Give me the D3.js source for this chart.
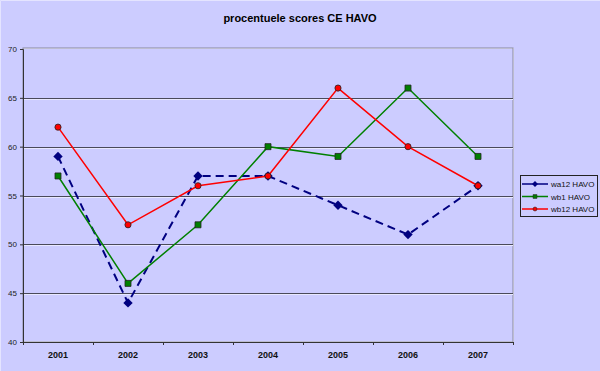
<!DOCTYPE html>
<html>
<head>
<meta charset="utf-8">
<script src="https://cdn.jsdelivr.net/npm/d3@7"></script>
<style>
  body { margin: 0; background: #ccccff; }
  svg { display: block; font-family: Arial, "Liberation Sans", sans-serif; }
</style>
</head>
<body>
<svg id="chart" width="600" height="371"></svg>
<script>
const years = ['2001', '2002', '2003', '2004', '2005', '2006', '2007'];
const wa12 = [59, 44, 57, 57, 54, 51, 56];
const wb1 = [57, 46, 52, 60, 59, 66, 59];
const wb12 = [62, 52, 56, 57, 66, 60, 56];
const yTicks = [40, 45, 50, 55, 60, 65, 70];

const series = [
  { name: 'wa12 HAVO', values: wa12, color: '#000080', dash: '8,5', width: 2, shape: d3.symbolSquare, rot: 45, size: 44 },
  { name: 'wb1 HAVO', values: wb1, color: '#008000', dash: null, width: 1.5, shape: d3.symbolSquare, rot: 0, size: 36 },
  { name: 'wb12 HAVO', values: wb12, color: '#ff0000', dash: null, width: 1.5, shape: d3.symbolCircle, rot: 0, size: 30 }
];

const svg = d3.select('svg#chart');
const W = 600, H = 371;
const plot = { left: 23, right: 513, top: 49, bottom: 342 };

// outer frame with light edge
svg.append('rect').attr('width', W).attr('height', H).attr('fill', '#ccccff');
svg.append('path').attr('d', `M0.5,${H} L0.5,0.5 L${W},0.5`)
  .attr('fill', 'none').attr('stroke', '#e4e4ff');

const x = d3.scaleBand().domain(years).range([plot.left, plot.right]);
const y = d3.scaleLinear().domain([40, 70]).range([plot.bottom, plot.top]);

svg.append('text')
  .attr('x', 300).attr('y', 22)
  .attr('text-anchor', 'middle')
  .attr('font-size', 11).attr('font-weight', 'bold')
  .text('procentuele scores CE HAVO');

// plot border (grey with light highlight)
svg.append('rect')
  .attr('x', plot.left + 0.5).attr('y', plot.top - 0.5)
  .attr('width', plot.right - plot.left).attr('height', plot.bottom - plot.top)
  .attr('fill', 'none').attr('stroke', '#f0f0ff').attr('stroke-width', 1);
svg.append('rect')
  .attr('x', plot.left).attr('y', plot.top - 1)
  .attr('width', plot.right - plot.left).attr('height', plot.bottom - plot.top + 1)
  .attr('fill', 'none').attr('stroke', '#8888a0').attr('stroke-width', 1);

// gridlines
const grid = svg.append('g');
grid.selectAll('line.g')
  .data(yTicks.filter(t => t > 40 && t < 70))
  .enter().append('line')
  .attr('x1', plot.left).attr('x2', plot.right)
  .attr('y1', d => Math.round(y(d)) + 0.5).attr('y2', d => Math.round(y(d)) + 0.5)
  .attr('stroke', '#4a4a5a');
grid.selectAll('line.h')
  .data(yTicks.filter(t => t > 40 && t < 70))
  .enter().append('line')
  .attr('x1', plot.left).attr('x2', plot.right)
  .attr('y1', d => Math.round(y(d)) + 1.5).attr('y2', d => Math.round(y(d)) + 1.5)
  .attr('stroke', '#e8e8ff');

// axes
const yAxis = svg.append('g')
  .attr('transform', `translate(${plot.left},0)`)
  .call(d3.axisLeft(y).tickValues(yTicks).tickSize(3).tickPadding(3));
yAxis.select('.domain').attr('stroke', '#333');
yAxis.selectAll('.tick line').attr('stroke', '#333');
yAxis.selectAll('text').attr('font-size', 8).attr('fill', '#222')
  .attr('font-family', 'Arial, "Liberation Sans", sans-serif');

const xAxis = svg.append('g')
  .attr('transform', `translate(0,${plot.bottom})`)
  .call(d3.axisBottom(x).tickSize(0).tickPadding(10));
xAxis.select('.domain').attr('stroke', '#333');
xAxis.selectAll('text').attr('font-size', 9).attr('font-weight', 'bold').attr('fill', '#111')
  .attr('font-family', 'Arial, "Liberation Sans", sans-serif');
// category separator ticks
svg.append('g').selectAll('line')
  .data(years.concat(['end']))
  .enter().append('line')
  .attr('x1', (d, i) => plot.left + i * x.step() + 0.5)
  .attr('x2', (d, i) => plot.left + i * x.step() + 0.5)
  .attr('y1', plot.bottom).attr('y2', plot.bottom + 3)
  .attr('stroke', '#333');

// lines and markers
const cx = (d, i) => x(years[i]) + x.bandwidth() / 2;
const line = d3.line().x(cx).y(d => y(d));

series.forEach(s => {
  svg.append('path')
    .datum(s.values)
    .attr('d', line)
    .attr('fill', 'none')
    .attr('stroke', s.color)
    .attr('stroke-width', s.width)
    .attr('stroke-dasharray', s.dash);
  svg.append('g').selectAll('path')
    .data(s.values)
    .enter().append('path')
    .attr('transform', (d, i) => `translate(${cx(d, i)},${y(d)}) rotate(${s.rot})`)
    .attr('d', d3.symbol().type(s.shape).size(s.size))
    .attr('fill', s.color)
    .attr('stroke', s.rot ? 'none' : '#222')
    .attr('stroke-width', 0.8);
});

// legend
const lg = svg.append('g').attr('transform', 'translate(520,175)');
lg.append('rect').attr('x', 0.5).attr('y', 0.5).attr('width', 77).attr('height', 41)
  .attr('fill', '#ccccff').attr('stroke', '#222');
const rows = lg.selectAll('g.row').data(series).enter().append('g')
  .attr('transform', (d, i) => `translate(0,${9 + i * 12.5})`);
rows.append('line').attr('x1', 2).attr('x2', 28).attr('y1', 0).attr('y2', 0)
  .attr('stroke', d => d.color).attr('stroke-width', 1.5);
rows.append('path').attr('transform', d => `translate(15,0) rotate(${d.rot})`)
  .attr('d', d => d3.symbol().type(d.shape).size(d.size * 0.4)())
  .attr('fill', d => d.color).attr('stroke', d => d.rot ? 'none' : '#222')
  .attr('stroke-width', 0.6);
rows.append('text').attr('x', 31).attr('y', 3)
  .attr('font-size', 8).attr('fill', '#111').text(d => d.name);
</script>
</body>
</html>
